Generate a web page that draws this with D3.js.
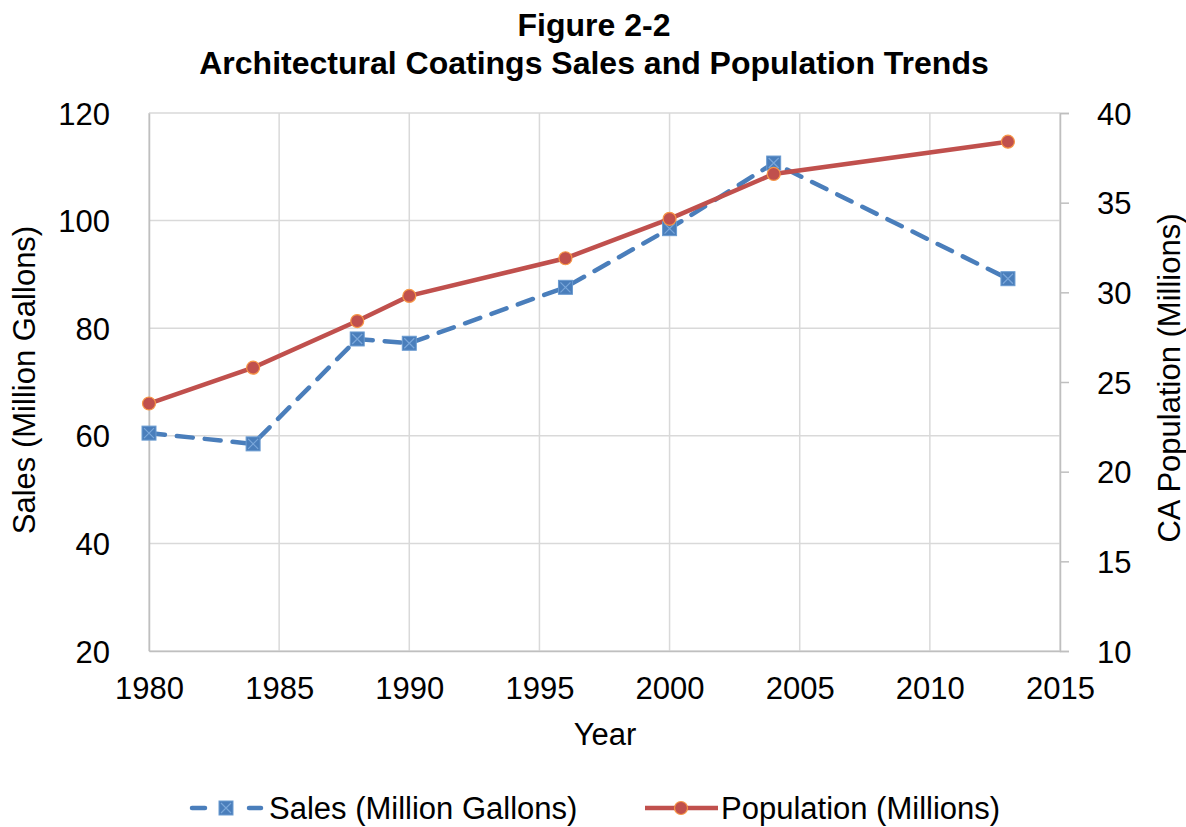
<!DOCTYPE html>
<html><head><meta charset="utf-8">
<script src="https://cdn.jsdelivr.net/npm/d3@7"></script>
<style>body{margin:0;background:#fff;} svg{display:block;font-family:"Liberation Sans",Arial,sans-serif;}</style>
</head><body>
<svg id="c" width="1186" height="827"></svg>
<script>
const years = [1980, 1984, 1988, 1990, 1996, 2000, 2004, 2013];
const sales = [60.5, 58.5, 78.0, 77.2, 87.6, 98.5, 110.7, 89.2];
const population = [23.8, 25.8, 28.4, 29.8, 31.9, 34.1, 36.6, 38.4];
const xTicks = [1980, 1985, 1990, 1995, 2000, 2005, 2010, 2015];
const yLeftTicks = [20, 40, 60, 80, 100, 120];
const yRightTicks = [10, 15, 20, 25, 30, 35, 40];
const titleLines = ["Figure 2-2", "Architectural Coatings Sales and Population Trends"];

const svg = d3.select("#c");
const L = 149, R = 1060, T = 113, B = 651;
const FS = 31;
const x = d3.scaleLinear().domain([1980, 2015]).range([L, R]);
const yL = d3.scaleLinear().domain([20, 120]).range([B, T]);
const yR = d3.scaleLinear().domain([10, 40]).range([B, T]);
const grid = "#d9d9d9", axisC = "#bfbfbf";

// gridlines
svg.append("g").selectAll("line").data(yLeftTicks).join("line")
  .attr("x1", L).attr("x2", R).attr("y1", d => yL(d)).attr("y2", d => yL(d))
  .attr("stroke", grid).attr("stroke-width", 1.5);
svg.append("g").selectAll("line").data(xTicks).join("line")
  .attr("x1", d => x(d)).attr("x2", d => x(d)).attr("y1", T).attr("y2", B)
  .attr("stroke", grid).attr("stroke-width", 1.5);

// axes
const ax = svg.append("g").attr("transform", `translate(0,${B})`)
  .call(d3.axisBottom(x).tickValues(xTicks).tickFormat(d3.format("d")).tickSize(0).tickPadding(26));
const ayl = svg.append("g").attr("transform", `translate(${L},0)`)
  .call(d3.axisLeft(yL).tickValues(yLeftTicks).tickSize(0).tickPadding(39));
const ayr = svg.append("g").attr("transform", `translate(${R},0)`)
  .call(d3.axisRight(yR).tickValues(yRightTicks).tickSize(9).tickPadding(28));
[ax, ayl, ayr].forEach(g => {
  g.attr("font-size", FS).attr("font-family", null);
  g.select(".domain").attr("stroke", axisC).attr("stroke-width", 1.5);
  g.selectAll(".tick line").attr("stroke", axisC).attr("stroke-width", 1.5);
  g.selectAll("text").attr("fill", "#000");
});
ayl.selectAll("text").attr("dy", "0.36em");
ayr.selectAll("text").attr("dy", "0.36em");
ax.selectAll("text").attr("dy", "0.71em");

// titles
svg.append("g").selectAll("text").data(titleLines).join("text")
  .attr("x", 594).attr("y", (d, i) => 36 + i * 38)
  .attr("text-anchor", "middle").attr("font-weight", "bold").attr("font-size", 32)
  .text(d => d);
svg.append("text").attr("x", 605).attr("y", 745).attr("text-anchor", "middle")
  .attr("font-size", FS).text("Year");
svg.append("text").attr("transform", `translate(35,380) rotate(-90)`).attr("text-anchor", "middle")
  .attr("font-size", FS).text("Sales (Million Gallons)");
svg.append("text").attr("transform", `translate(1180,378) rotate(-90)`).attr("text-anchor", "middle")
  .attr("font-size", FS).text("CA Population (Millions)");

const blue = "#4a7ebb", red = "#c0504d";
const salesData = years.map((y, i) => [y, sales[i]]);
const popData = years.map((y, i) => [y, population[i]]);

svg.append("path").datum(salesData)
  .attr("d", d3.line().x(d => x(d[0])).y(d => yL(d[1])))
  .attr("fill", "none").attr("stroke", blue).attr("stroke-width", 4.5)
  .attr("stroke-dasharray", "16 12").attr("stroke-linecap", "round");
svg.append("path").datum(popData)
  .attr("d", d3.line().x(d => x(d[0])).y(d => yR(d[1])))
  .attr("fill", "none").attr("stroke", red).attr("stroke-width", 4.5);

function square(g, cx, cy, s) {
  g.append("rect").attr("x", cx - s/2).attr("y", cy - s/2).attr("width", s).attr("height", s)
    .attr("fill", blue).attr("stroke", "#6a9bd1").attr("stroke-width", 1);
  g.append("path").attr("d", `M${cx-s/2+2},${cy-s/2+2}L${cx+s/2-2},${cy+s/2-2}M${cx+s/2-2},${cy-s/2+2}L${cx-s/2+2},${cy+s/2-2}`)
    .attr("stroke", "#7aa7da").attr("stroke-width", 1.2);
}
const sm = svg.append("g");
salesData.forEach(d => square(sm, x(d[0]), yL(d[1]), 14));
svg.append("g").selectAll("circle").data(popData).join("circle")
  .attr("cx", d => x(d[0])).attr("cy", d => yR(d[1])).attr("r", 6.5)
  .attr("fill", red).attr("stroke", "#f79646").attr("stroke-width", 1.2);

// legend
const lg = svg.append("g");
const ly = 808;
[[192, 205], [249, 261]].forEach(s => lg.append("line").attr("x1", s[0]).attr("x2", s[1]).attr("y1", ly).attr("y2", ly)
  .attr("stroke", blue).attr("stroke-width", 4.5).attr("stroke-linecap", "round"));
square(lg, 226, ly, 14);
lg.append("text").attr("x", 269).attr("y", 819).attr("font-size", FS).text("Sales (Million Gallons)");
lg.append("line").attr("x1", 645).attr("x2", 718).attr("y1", ly).attr("y2", ly)
  .attr("stroke", red).attr("stroke-width", 4.5);
lg.append("circle").attr("cx", 681).attr("cy", ly).attr("r", 6.5)
  .attr("fill", red).attr("stroke", "#f79646").attr("stroke-width", 1.2);
lg.append("text").attr("x", 721).attr("y", 819).attr("font-size", FS).text("Population (Millions)");
</script>
</body></html>
